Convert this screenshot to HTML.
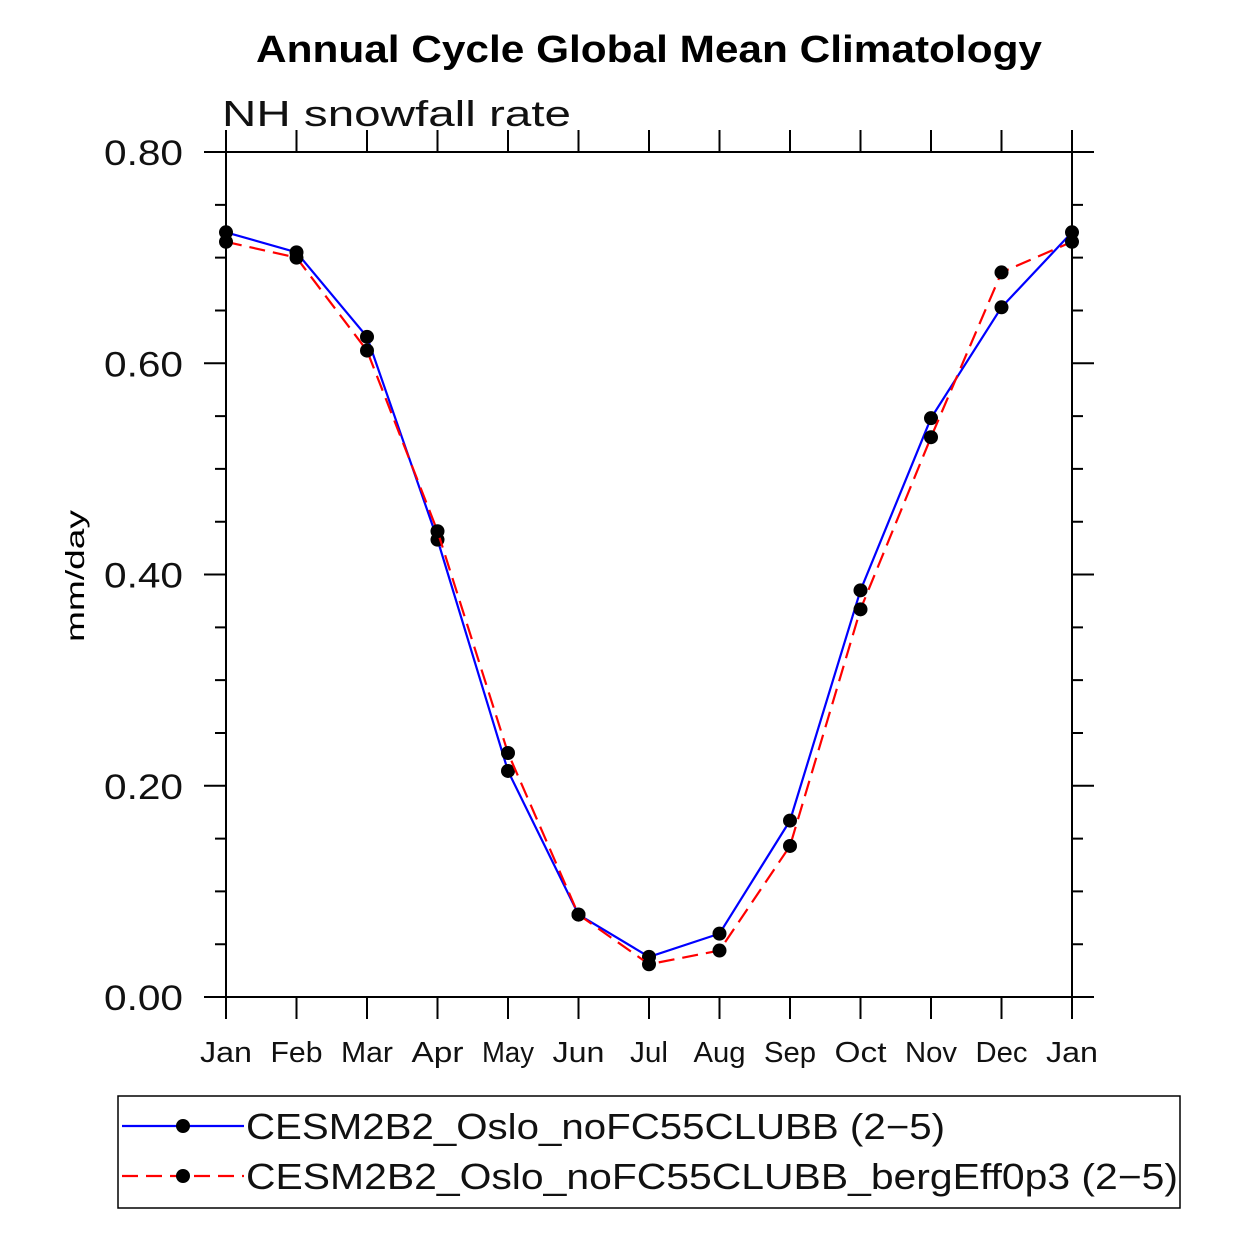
<!DOCTYPE html>
<html><head><meta charset="utf-8"><style>body{margin:0;background:#fff}svg{display:block}text{font-family:"Liberation Sans",sans-serif}</style></head>
<body>
<svg id="c" width="1238" height="1238"></svg>
<script>
const months=["Jan","Feb","Mar","Apr","May","Jun","Jul","Aug","Sep","Oct","Nov","Dec","Jan"];
const blueVals=[0.724,0.705,0.625,0.433,0.214,0.078,0.038,0.060,0.167,0.385,0.548,0.653,0.724];
const redVals=[0.715,0.700,0.612,0.441,0.231,0.078,0.031,0.044,0.143,0.367,0.530,0.686,0.715];
const yTicks=[0,0.2,0.4,0.6,0.8];
const yTickLabels=["0.00","0.20","0.40","0.60","0.80"];
const NS="http://www.w3.org/2000/svg",svg=document.getElementById('c');
const L=226,R=1072,T=152,B=997;
const X=i=>L+(R-L)*i/12, Y=v=>B-(B-T)*v/0.8;
function el(t,a,txt){const e=document.createElementNS(NS,t);for(const k in a)e.setAttribute(k,a[k]);if(txt!=null)e.textContent=txt;svg.appendChild(e);return e;}
let e;
e=el('text',{x:649,y:62,'text-anchor':'middle','font-size':38,'font-weight':'bold',textLength:786,lengthAdjust:'spacingAndGlyphs'},'Annual Cycle Global Mean Climatology');

e=el('text',{x:222,y:126,'font-size':36,fill:'#111',textLength:349,lengthAdjust:'spacingAndGlyphs'},'NH snowfall rate');

e=el('text',{x:84,y:576,'font-size':26,'text-anchor':'middle',transform:'rotate(-90 84 576)',textLength:132,lengthAdjust:'spacingAndGlyphs'},'mm/day');

e=el('rect',{x:L,y:T,width:R-L,height:B-T,fill:'none',stroke:'#000','stroke-width':2});

for(let v=0;v<=0.8001;v+=0.05){const y=Y(v);const maj=Math.abs(v/0.2-Math.round(v/0.2))<1e-6;const len=maj?22:11;
 e=el('path',{d:`M${L-len},${y}H${L}M${R},${y}H${R+len}`,stroke:'#000','stroke-width':2});
 }
yTicks.forEach((v,i)=>{e=el('text',{x:104,y:Y(v)+13,'font-size':35,fill:'#111',textLength:79,lengthAdjust:'spacingAndGlyphs'},yTickLabels[i]);
 });
months.forEach((m,i)=>{const x=X(i);
 e=el('path',{d:`M${x},${T-22}V${T}M${x},${B}V${B+22}`,stroke:'#000','stroke-width':2});
 
 e=el('text',{x:x,y:1062,'text-anchor':'middle','font-size':29,fill:'#111',textLength:(m.length===3?(m==="Jul"?38:52):52),lengthAdjust:'spacingAndGlyphs'},m);
 });
function series(vals,color,dash,name){
 e=el('polyline',{points:vals.map((v,i)=>X(i)+','+Y(v)).join(' '),fill:'none',stroke:color,'stroke-width':2.2,'stroke-dasharray':dash});
 
 vals.forEach((v,i)=>{e=el('circle',{cx:X(i),cy:Y(v),r:7,fill:'#000'});
  });}
series(blueVals,'#00f','none','blue-series');
series(redVals,'#f00','16 8','red-series');
e=el('rect',{x:118,y:1096,width:1062,height:112,fill:'none',stroke:'#000','stroke-width':1.5});

[["#00f","none","CESM2B2_Oslo_noFC55CLUBB (2\u22125)",1126,699],["#f00","16 8","CESM2B2_Oslo_noFC55CLUBB_bergEff0p3 (2\u22125)",1176,932]].forEach(([c,d,t,y,w])=>{
 e=el('line',{x1:122,x2:244,y1:y,y2:y,stroke:c,'stroke-width':2.2,'stroke-dasharray':d});
 
 e=el('circle',{cx:183,cy:y,r:7,fill:'#000'});
 
 e=el('text',{x:246,y:y+13,'font-size':36,fill:'#111',textLength:w,lengthAdjust:'spacingAndGlyphs'},t);
 });
</script>
</body></html>
